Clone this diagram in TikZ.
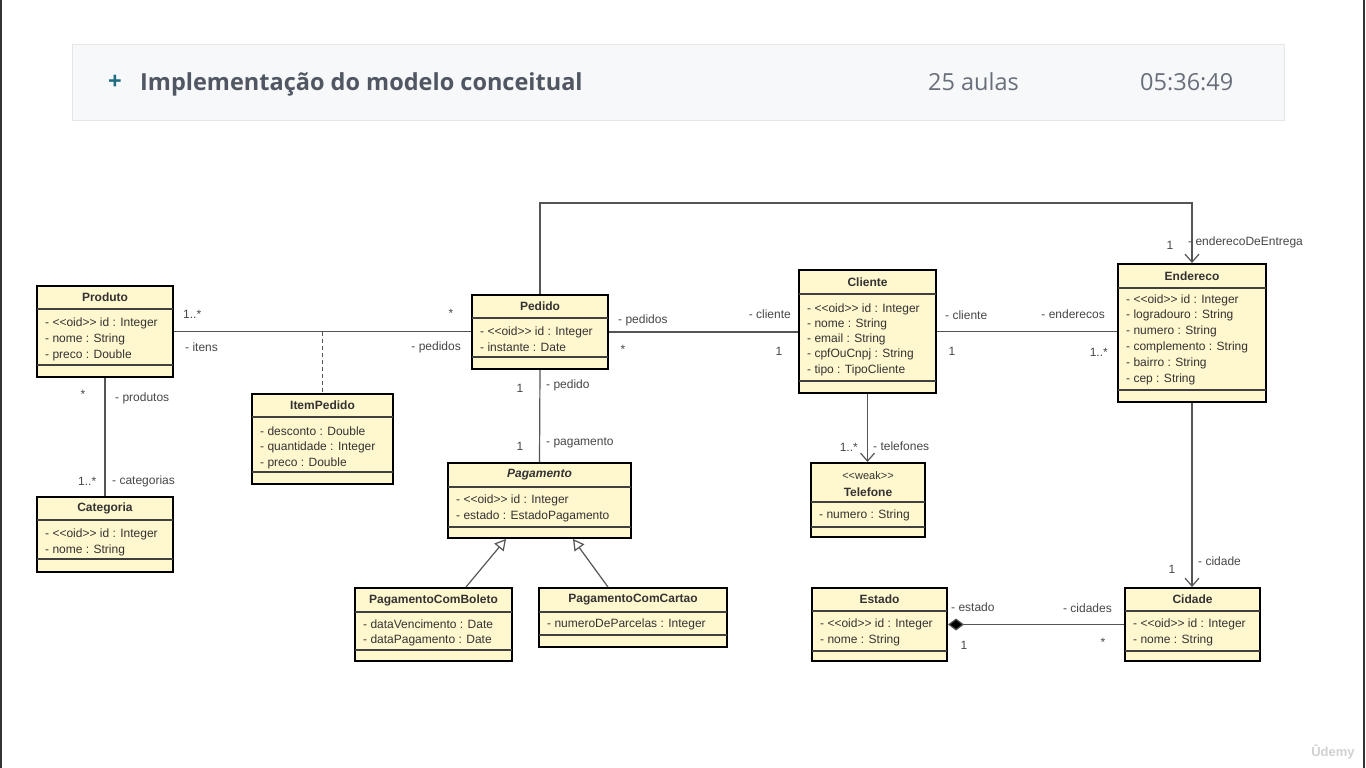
\documentclass[tikz,border=0pt]{standalone}
\usepackage{fontspec}
\setmainfont{Liberation Sans}[Ligatures=TeXOff]
\newfontfamily\hdrfont{Open Sans}
\usetikzlibrary{arrows.meta,fit}
\definecolor{clsfill}{HTML}{FFF7CE}
\definecolor{txtc}{HTML}{333333}
\definecolor{linec}{HTML}{555555}
\definecolor{hdrbg}{HTML}{F7F8FA}
\definecolor{hdrbd}{HTML}{E4E6E8}
\definecolor{hdrtitle}{HTML}{505763}
\definecolor{hdrmeta}{HTML}{686F7A}
\definecolor{plusc}{HTML}{1E6D82}
\tikzset{
 clsbox/.style={draw=black, line width=2pt, fill=clsfill, inner sep=0pt},
 sepl/.style={draw=black!75, line width=1.1pt},
 clstitle/.style={font=\fontsize{12}{14}\selectfont\bfseries, text=txtc, inner sep=0pt},
 attr/.style={font=\fontsize{12}{14}\selectfont, text=txtc, anchor=west, inner sep=0pt},
 lbl/.style={font=\fontsize{12}{14}\selectfont, text=txtc!90, inner sep=0pt},
 hdrtxt/.style={font=\hdrfont\fontsize{23.5}{28}\selectfont, text=hdrmeta, anchor=base west, inner sep=0pt},
 assoc/.style={draw=linec, line width=1.2pt},
 nav/.style={assoc, -{Straight Barb[length=8pt,width=14pt,line width=1.2pt]}},
 gen/.style={assoc, -{Triangle[open,length=11pt,width=12pt,fill=white]}},
 comp/.style={assoc, {Diamond[length=16pt,width=12pt,fill=black]}-},
}
\newcommand\umlcls[8]{%
  \node[clsbox, fit={(#2,#3)(#4,#5)}] (#1) {};
  \draw[sepl] (#2,#6) -- (#4,#6);
  \draw[sepl] (#2,#7) -- (#4,#7);
  \node[clstitle] (#1-t) at ({(#2+#4)/2},{(#3+#6)/2}) {#8};
}
\newcommand\umlattrs[5]{%
  \foreach \atx [count=\atn from 0] in {#5} {\node[attr] (#1-a\atn) at (#2,{#3+\atn*#4}) {\atx};}
}
\begin{document}
\begin{tikzpicture}[x=1pt,y=-1pt]
\useasboundingbox (0,0) rectangle (1366,768);
\fill[white] (0,0) rectangle (1366,768);
\draw[line width=2pt, black!80] (1,0) -- (1,768);
\draw[line width=2pt, black!80] (1364,0) -- (1364,768);

% header
\node[draw=hdrbd, fill=hdrbg, line width=1pt, fit={(72,45)(1284,120)}, inner sep=0pt] (hdr) {};
\node[font=\hdrfont\fontsize{24}{28}\selectfont\bfseries, text=plusc, inner sep=0pt] (plus) at (115,82) {+};
\node[hdrtxt, font=\hdrfont\fontsize{23.5}{28}\selectfont\bfseries, text=hdrtitle] (htitle) at (140,91) {Implementação do modelo conceitual};
\node[hdrtxt] (aulas) at (928,91) {25 aulas};
\node[hdrtxt] (dur) at (1140,91) {05:36:49};

% classes
\umlcls{produto}{37}{286}{173}{377}{309}{365}{Produto}
\umlattrs{produto}{45}{323}{16}{{- <<oid>> id : Integer},{- nome : String},{- preco : Double}}
\umlcls{categoria}{37}{497}{173}{572}{520}{559}{Categoria}
\umlattrs{categoria}{45}{534}{16}{{- <<oid>> id : Integer},{- nome : String}}
\umlcls{itempedido}{252}{394}{393}{484}{417}{472}{ItemPedido}
\umlattrs{itempedido}{260}{431}{16}{{- desconto : Double},{- quantidade : Integer},{- preco : Double}}
\umlcls{pedido}{472}{295}{608}{369}{318}{357}{Pedido}
\umlattrs{pedido}{480}{332}{15}{{- <<oid>> id : Integer},{- instante : Date}}
\umlcls{pagamento}{448}{463}{631}{538}{487}{527}{\itshape Pagamento}
\umlattrs{pagamento}{456}{500}{16}{{- <<oid>> id : Integer},{- estado : EstadoPagamento}}
\umlcls{boleto}{355}{588}{512}{661}{612}{650}{PagamentoComBoleto}
\umlattrs{boleto}{363}{624}{16}{{- dataVencimento : Date},{- dataPagamento : Date}}
\umlcls{cartao}{539}{588}{727}{647}{612}{635}{PagamentoComCartao}
\umlattrs{cartao}{547}{624}{16}{{- numeroDeParcelas : Integer}}
\umlcls{cliente}{799}{270}{936}{393}{294}{381}{Cliente}
\umlattrs{cliente}{807}{309}{15.25}{{- <<oid>> id : Integer},{- nome : String},{- email : String},{- cpfOuCnpj : String},{- tipo : TipoCliente}}
\umlcls{telefone}{811}{463}{925}{537}{502}{527}{}
\node[font=\fontsize{11}{13}\selectfont, text=txtc, inner sep=0pt] (telefone-s) at (868,476) {<<weak>>};
\node[clstitle] (telefone-n) at (868,492) {Telefone};
\umlattrs{telefone}{819}{515}{16}{{- numero : String}}
\umlcls{endereco}{1118}{264}{1266}{402}{288}{390}{Endereco}
\umlattrs{endereco}{1126}{300}{15.8}{{- <<oid>> id : Integer},{- logradouro : String},{- numero : String},{- complemento : String},{- bairro : String},{- cep : String}}
\umlcls{estado}{812}{588}{947}{661}{611}{651}{Estado}
\umlattrs{estado}{820}{624}{16}{{- <<oid>> id : Integer},{- nome : String}}
\umlcls{cidade}{1125}{588}{1260}{661}{611}{651}{Cidade}
\umlattrs{cidade}{1133}{624}{16}{{- <<oid>> id : Integer},{- nome : String}}

% connectors
\draw[assoc] (produto.east) -- (produto.east -| pedido.west);
\coordinate (ipjoin) at (itempedido.north |- produto.east);
\draw[assoc, dash pattern=on 4pt off 3pt] (ipjoin) -- (itempedido.north);
\draw[assoc] (produto.south) -- (categoria.north);
\draw[assoc] (pedido.east) -- (pedido.east -| cliente.west);
\draw[assoc] (cliente.east) -- (cliente.east -| endereco.west);
\draw[assoc] (pedido.south) -- (pagamento.north);
\draw[gen] ([xshift=32.5pt]boleto.north) -- ([xshift=-33.5pt]pagamento.south);
\draw[gen] ([xshift=-25pt]cartao.north) -- ([xshift=33.5pt]pagamento.south);
\draw[nav] (cliente.south) -- (cliente.south |- telefone.north);
\draw[nav] (pedido.north) -- ++(0,-91) -| (endereco.north);
\draw[nav] (endereco.south) -- (endereco.south |- cidade.north);
\draw[comp] (estado.east) -- (estado.east -| cidade.west);

% labels
\node[lbl, anchor=west] (l1) at (183,314) {1..*};
\node[lbl, anchor=west] (l2) at (185,347) {- itens};
\node[lbl] (l3) at (451,313) {*};
\node[lbl, anchor=east] (l4) at (461,347) {- pedidos};
\node[lbl] (l5) at (83,394) {*};
\node[lbl, anchor=west] (l6) at (115,398) {- produtos};
\node[lbl, anchor=west] (l7) at (78,481) {1..*};
\node[lbl, anchor=west] (l8) at (112,481) {- categorias};
\node[lbl, anchor=west] (l9) at (618,320) {- pedidos};
\node[lbl, anchor=east] (l10) at (791,314) {- cliente};
\node[lbl] (l11) at (623,349) {*};
\node[lbl] (l12) at (779,351) {1};
\node[lbl] (l13) at (520,388) {1};
\node[lbl, anchor=west] (l14) at (546,385) {- pedido};
\node[lbl] (l15) at (520,446) {1};
\node[lbl, anchor=west] (l16) at (546,443) {- pagamento};
\node[lbl, anchor=west] (l17) at (945,315) {- cliente};
\node[lbl, anchor=east] (l18) at (1105,314) {- enderecos};
\node[lbl] (l19) at (952,351) {1};
\node[lbl, anchor=east] (l20) at (1108,352) {1..*};
\node[lbl, anchor=east] (l21) at (858,447) {1..*};
\node[lbl, anchor=west] (l22) at (873,446) {- telefones};
\node[lbl] (l23) at (1170,245) {1};
\node[lbl, anchor=west] (l24) at (1188,242) {- enderecoDeEntrega};
\node[lbl] (l25) at (1172,569) {1};
\node[lbl, anchor=west] (l26) at (1198,561) {- cidade};
\node[lbl, anchor=west] (l27) at (951,607) {- estado};
\node[lbl] (l28) at (964,645) {1};
\node[lbl, anchor=east] (l29) at (1112,608) {- cidades};
\node[lbl] (l30) at (1103,642) {*};

% watermark
\node[font=\fontsize{13}{15}\selectfont\bfseries, text=black!18, inner sep=0pt] (wm) at (1333,752) {Ûdemy};
\end{tikzpicture}
\end{document}
